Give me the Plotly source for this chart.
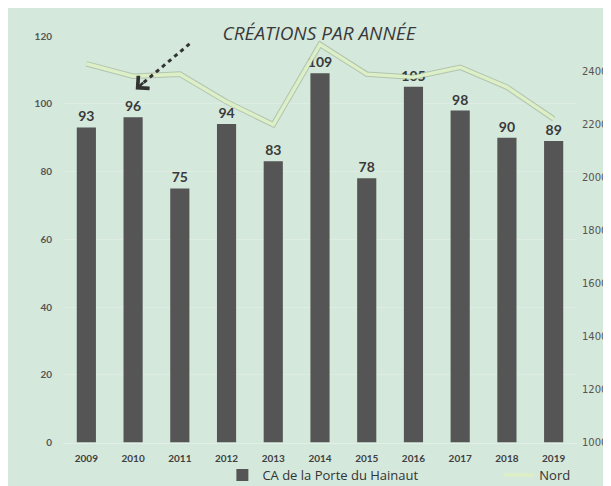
import plotly.graph_objects as go

years = ["2009", "2010", "2011", "2012", "2013", "2014", "2015", "2016", "2017", "2018", "2019"]
ca_porte_hainaut = [93, 96, 75, 94, 83, 109, 78, 105, 98, 90, 89]
nord = [2430, 2383, 2391, 2286, 2200, 2503, 2391, 2379, 2417, 2342, 2222]
left_ticks = [0, 20, 40, 60, 80, 100, 120]
right_ticks = [1000, 1200, 1400, 1600, 1800, 2000, 2200, 2400]

W, H = 611, 486
ML, MR, MT, MB = 55, 40, 28, 47
PW, PH = W - ML - MR, H - MT - MB

def px(x):
    return (x - ML) / PW

def py(y):
    return (H - MB - y) / PH

fig = go.Figure()
fig.add_trace(go.Bar(
    x=years, y=ca_porte_hainaut, name="CA de la Porte du Hainaut",
    marker=dict(color="#555555", line=dict(width=0)),
    width=0.41,
    text=[str(v) for v in ca_porte_hainaut], textposition="outside",
    textfont=dict(family="Lato", size=14, color="#3a3a3a", weight="bold"),
    constraintext="none", cliponaxis=False, yaxis="y", legend="legend",
))
# soft shadow of the line
fig.add_trace(go.Scatter(
    x=years, y=nord, mode="lines", yaxis="y2", showlegend=False, hoverinfo="skip",
    line=dict(color="rgba(110,130,95,0.35)", width=5.5),
))
fig.add_trace(go.Scatter(
    x=years, y=nord, mode="lines", yaxis="y2", name="Nord", legend="legend2",
    line=dict(color="#dcefc6", width=3.5),
))

legend_common = dict(orientation="h", xref="paper", yref="container",
                     y=1 - 467 / H, xanchor="left", yanchor="middle",
                     font=dict(family="Open Sans", size=13, color="#333333"),
                     bgcolor="rgba(0,0,0,0)")

fig.update_layout(
    width=W, height=H,
    margin=dict(l=ML, r=MR, t=MT, b=MB),
    paper_bgcolor="#d5e8dc", plot_bgcolor="rgba(0,0,0,0)",
    font=dict(family="Lato", color="#404040"),
    title=dict(text="CRÉATIONS PAR ANNÉE", x=311 / W, y=1 - 25 / H,
               xanchor="center", yanchor="middle",
               font=dict(family="Open Sans", size=19, color="#3a3a3a", style="italic")),
    bargap=0.59,
    xaxis=dict(type="category", showgrid=False, ticks="", showline=True,
               linecolor="#e2efe6", linewidth=1, automargin=False,
               tickfont=dict(family="Lato", size=10, color="#404040", weight="bold"),
               ticklabelstandoff=6),
    yaxis=dict(range=[0, 120], tickvals=left_ticks, showgrid=True, gridcolor="#dfece3",
               gridwidth=1, zeroline=False, showline=False, automargin=False,
               tickfont=dict(family="Lato", size=10, color="#555555", weight="bold"),
               ticklabelstandoff=10),
    yaxis2=dict(range=[1000, 2535], tickvals=right_ticks, overlaying="y", side="right",
                showgrid=False, zeroline=False, showline=False, automargin=True,
                tickfont=dict(family="DejaVu Sans", size=10, color="#555555"),
                ticklabelstandoff=4),
    legend=dict(x=px(215), **legend_common),
    legend2=dict(x=px(493), **legend_common),
    showlegend=True,
)

# dotted pointer line and arrowhead
fig.add_shape(type="line", xref="paper", yref="paper",
              x0=px(136), y0=py(75), x1=px(182), y1=py(36),
              line=dict(color="#333333", width=3, dash="4px,4px"))
fig.add_annotation(xref="paper", yref="paper", x=px(128), y=py(82),
                   ax=9, ay=-8, showarrow=True, arrowhead=4, arrowsize=1.3,
                   arrowwidth=2.5, arrowcolor="#333333", text="")

fig.write_html("out.html")
